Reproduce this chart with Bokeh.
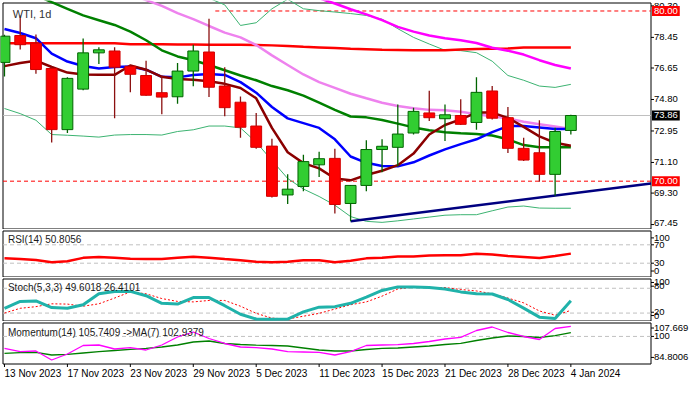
import numpy as np
from bokeh.plotting import figure
from bokeh.layouts import column
from bokeh.models import Range1d, Label, ColumnDataSource
from bokeh.core.properties import value
from bokeh.embed import file_html
from bokeh.resources import INLINE

# ---------------- data ----------------
date_labels = ["13 Nov 2023", "17 Nov 2023", "23 Nov 2023", "29 Nov 2023", "5 Dec 2023",
               "11 Dec 2023", "15 Dec 2023", "21 Dec 2023", "28 Dec 2023", "4 Jan 2024"]
date_ticks = [0, 4, 8, 12, 16, 20, 24, 28, 32, 36]

opens  = [76.98, 78.56, 78.11, 76.62, 73.03, 75.41, 77.54, 77.65, 76.75, 76.21, 75.20, 74.96, 76.47,
          77.59, 75.59, 74.64, 73.24, 72.06, 69.19, 69.69, 70.96, 71.34, 68.69, 69.75, 71.86, 71.99,
          72.83, 74.01, 73.67, 73.86, 73.45, 75.30, 73.73, 71.93, 71.67, 70.40, 72.98]
highs  = [78.60, 79.74, 78.62, 76.71, 76.10, 78.38, 77.87, 77.87, 76.84, 77.07, 76.19, 76.94, 78.02,
          79.55, 76.70, 74.98, 74.01, 72.49, 70.40, 71.56, 71.73, 71.90, 69.77, 72.40, 72.46, 74.51,
          74.32, 75.31, 74.51, 74.81, 76.10, 75.59, 74.36, 72.55, 73.58, 73.14, 73.91]
lows   = [76.15, 77.74, 76.32, 72.27, 72.83, 75.35, 76.88, 73.70, 75.22, 75.02, 73.93, 74.55, 75.58,
          74.94, 73.82, 72.55, 71.91, 69.04, 68.66, 69.41, 70.25, 68.10, 67.64, 69.41, 70.53, 70.87,
          72.74, 73.54, 72.36, 73.30, 73.02, 73.63, 71.65, 71.18, 69.97, 69.15, 72.74]
closes = [78.52, 78.02, 76.56, 73.03, 76.04, 77.54, 77.72, 76.70, 76.28, 75.05, 74.94, 76.47, 77.65,
          75.52, 74.32, 73.17, 71.99, 69.11, 69.53, 71.15, 71.32, 68.63, 69.75, 71.86, 72.05, 72.77,
          74.10, 73.73, 73.90, 73.34, 75.22, 73.70, 71.93, 71.24, 70.40, 72.92, 73.86]

nan = float("nan")
ma_blue = [78.94, 78.71, 78.40, 77.50, 77.03, 76.77, 76.62, 76.71, 76.74, 76.55, 76.13, 76.10, 76.24,
           76.30, 76.24, 75.82, 75.20, 74.36, 73.69, 73.41, 73.13, 72.46, 71.45, 71.08, 70.89, 70.87,
           71.11, 71.51, 71.87, 72.18, 72.46, 72.88, 73.24, 73.24, 73.16, 73.07, 73.07]
ma_brown = [76.76, 76.94, 77.08, 76.71, 76.38, 76.27, 76.25, 76.25, 76.80, 76.55, 76.13, 76.00, 75.96,
            75.87, 75.72, 75.48, 74.87, 73.13, 71.70, 71.06, 70.75, 70.16, 70.05, 70.36, 70.61, 70.94,
            71.62, 72.74, 73.30, 73.63, 74.03, 74.03, 73.72, 73.19, 72.63, 72.26, 72.08]
bb_mid = [81.59, 81.25, 80.92, 80.52, 80.13, 79.74, 79.46, 79.18, 78.79, 78.28, 77.69, 77.33, 77.11,
          76.83, 76.52, 76.21, 75.93, 75.59, 75.34, 75.03, 74.61, 74.19, 73.80, 73.75, 73.60, 73.38,
          73.16, 72.99, 72.88, 72.82, 72.77, 72.68, 72.46, 72.12, 71.99, 71.99, 71.99]
bb_upper = [nan, nan, nan, nan, nan, nan, nan, nan, nan, nan, nan, nan, 81.14,
            80.75, 80.36, 79.15, 79.31, 80.13, 80.69, 80.13, 80.02, 79.94, 79.85, 79.74, 79.52, 78.96,
            78.45, 78.06, 77.69, 77.67, 77.55, 77.05, 76.21, 75.93, 75.59, 75.51, 75.69]
bb_lower = [74.27, 73.97, 73.58, 72.74, 72.70, 72.65, 72.59, 72.71, 72.74, 72.74, 72.71, 72.92, 73.02,
            73.24, 73.24, 73.13, 72.29, 71.22, 70.16, 69.54, 69.10, 68.59, 67.92, 67.64, 67.58, 67.67,
            67.78, 67.89, 68.00, 68.03, 68.03, 68.26, 68.48, 68.54, 68.42, 68.41, 68.41]
ma_violet = [nan, nan, nan, nan, nan, nan, 81.70, 81.31, 80.97, 80.64, 80.30, 79.88, 79.52,
             79.12, 78.73, 78.45, 78.00, 77.39, 76.83, 76.27, 75.82, 75.48, 75.14, 74.87, 74.61, 74.42,
             74.28, 74.19, 74.17, 74.08, 73.94, 73.80, 73.69, 73.49, 73.35, 73.21, 73.07]
ma_magenta = [nan] * 18 + [81.25, 81.03, 80.75, 80.44, 80.10, 79.80, 79.46, 79.07, 78.79, 78.56, 78.40,
                           78.28, 78.12, 77.84, 77.67, 77.44, 77.11, 76.83, 76.62]
ma_red = [78.10, 78.10, 78.10, 78.10, 78.10, 78.10, 78.10, 78.10, 78.04, 78.04, 78.04, 78.03, 78.03,
          78.02, 78.02, 78.01, 78.00, 77.98, 77.95, 77.90, 77.86, 77.82, 77.78, 77.75, 77.72, 77.71,
          77.70, 77.70, 77.70, 77.74, 77.76, 77.78, 77.80, 77.85, 77.85, 77.85, 77.85]

trend_x = [22, 35]          # trendline anchors (bar index)
trend_y = [67.64, 69.15]    # lows of those bars
level_top, level_top_start = 80.00, 13.4
level_bottom = 70.00
last_price = 73.86

rsi = [40.5, 39.1, 36.9, 32.1, 34.2, 41.6, 43.7, 42.0, 39.9, 39.1, 39.1, 41.6, 44.1, 42.0, 39.1, 36.3,
       33.2, 32.1, 33.2, 36.3, 36.3, 32.1, 35.3, 40.5, 42.0, 44.7, 44.7, 46.8, 47.5, 47.5, 50.4, 48.9,
       45.4, 43.3, 41.2, 45.8, 50.8]
stoch_main = [31.5, 48.2, 49.3, 33.2, 31.5, 40.1, 66.6, 72.4, 72.4, 62.0, 43.6, 41.7, 57.4, 57.4, 37.8,
              17.0, 5.5, 4.8, 5.5, 22.8, 34.3, 35.5, 43.6, 58.6, 74.7, 83.3, 83.3, 81.7, 78.1, 71.2,
              66.6, 66.2, 52.8, 32.0, 10.1, 6.6, 49.6]
stoch_signal = [20.0, 31.5, 35.5, 42.4, 41.7, 36.6, 42.4, 56.3, 71.3, 66.6, 55.1, 48.2, 47.0, 50.5, 50.5,
                36.6, 19.3, 7.8, 5.5, 12.4, 19.3, 29.7, 40.1, 47.0, 60.9, 78.2, 82.8, 81.7, 81.7, 77.0,
                73.5, 66.6, 56.3, 44.7, 25.1, 14.7, 26.4]
momentum = [93.21, 91.27, 91.67, 86.53, 89.95, 94.81, 95.10, 92.81, 93.56, 92.24, 95.10, 99.67, 102.53,
            98.81, 95.96, 93.96, 93.56, 92.81, 91.27, 91.10, 90.93, 89.38, 91.27, 94.81, 95.10, 95.27,
            95.96, 97.10, 98.53, 99.50, 103.38, 105.38, 102.24, 99.96, 98.24, 104.53, 105.74]
momentum_ma = [90.35, 90.70, 90.93, 89.38, 89.78, 90.53, 91.27, 91.96, 92.64, 93.21, 93.96, 95.10, 96.81,
               97.38, 95.96, 95.38, 94.98, 94.81, 94.53, 93.38, 92.24, 91.67, 91.67, 92.53, 93.21, 93.38,
               93.96, 94.53, 95.38, 96.07, 97.67, 99.10, 100.24, 99.96, 99.38, 100.41, 102.2]

title_text = "WTI, 1d"
rsi_text = "RSI(14) 50.8056"
stoch_text = "Stoch(5,3,3) 49.6018 26.4101"
mom_text = "Momentum(14) 105.7409  ->MA(7) 102.9379"

price_ticks = [80.30, 78.45, 76.65, 74.80, 72.95, 71.10, 69.30, 67.45]
rsi_tick_pos, rsi_tick_txt = [85, 70, 30, 13], ["100", "70", "30", "0"]
stoch_tick_pos, stoch_tick_txt = [94, 85, 22, 14], ["100", "80", "20", "0"]
mom_tick_pos, mom_tick_txt = [104.8, 100, 88.0], ["107.669", "100", "84.8006"]

# ---------------- layout (pixels) ----------------
FONT = "Liberation Sans"
FS = "10px"
SFS = "9.5px"                       # right-scale font size
W = 689
PX_LEFT, PX_RIGHT = 2.5, 650.5      # panel border x positions
X0, X1 = -0.094, 41.094             # bar coordinates of the panel borders
PPB = (PX_RIGHT - PX_LEFT) / (X1 - X0)
xr = Range1d(X0 - PX_LEFT / PPB, X1 + (W - PX_RIGHT) / PPB)
n = len(closes)
idx = list(range(n))


def make_panel(H, t, b, vtop, vbot):
    ppu = (b - t) / (vtop - vbot)
    yr = Range1d(vbot - (H - b) / ppu, vtop + t / ppu)
    p = figure(width=W, height=H, x_range=xr, y_range=yr,
               output_backend="svg", toolbar_location=None,
               x_axis_location=None, y_axis_location=None,
               min_border=0, background_fill_color="white", border_fill_color="white")
    p.grid.visible = False
    p.outline_line_color = None
    p.line([X0, X1, X1, X0, X0], [vtop, vtop, vbot, vbot, vtop], line_color="black", line_width=1)
    return p, ppu


def scale_labels(p, pos, txt, yoff=None):
    p.segment(x0=[X1] * len(pos), y0=pos, x1=[X1 + 3 / PPB] * len(pos), y1=pos,
              line_color="black", line_width=1)
    src = ColumnDataSource(dict(x=[X1] * len(pos), y=pos, t=txt,
                                yo=yoff if yoff is not None else [0] * len(pos)))
    p.text(x="x", y="y", text="t", x_offset=3, y_offset="yo", source=src,
           text_font=value(FONT), text_font_size=value(SFS), text_color="black",
           text_baseline="middle", text_align="left")


def right_marker(p, y, txt, color):
    p.add_layout(Label(x=X1, y=y, x_offset=1, text=txt, text_color="white",
                       text_font=FONT, text_font_size=SFS, text_align="left",
                       text_baseline="middle", background_fill_color=color,
                       padding=2))


def hlevel(p, y, color, dash, x_start=X0):
    p.line([x_start, X1], [y, y], line_color=color, line_width=1, line_dash=dash)


# ---- main price panel ----
p1, _ = make_panel(229, 2.5, 228.5, 80.47, 67.19)
hlevel(p1, last_price, "#C0C0C0", "solid")
hlevel(p1, level_bottom, "#FF0000", "4 3")
hlevel(p1, level_top, "#FF0000", "4 3", level_top_start)

p1.line(idx, bb_upper, line_color="#3CB371", line_width=1)
p1.line(idx, bb_lower, line_color="#3CB371", line_width=1)
p1.line(idx, ma_red, line_color="#FF0000", line_width=2.5)
p1.line(idx, ma_magenta, line_color="#FF00FF", line_width=2.5)
p1.line(idx, ma_violet, line_color="#EE82EE", line_width=2.5)
p1.line(idx, bb_mid, line_color="#008000", line_width=2.5)
p1.line(idx, ma_blue, line_color="#0000FF", line_width=2.5)
p1.line(idx, ma_brown, line_color="#8B0000", line_width=2.5)

slope = (trend_y[1] - trend_y[0]) / (trend_x[1] - trend_x[0])
p1.line([trend_x[0], X1], [trend_y[0], trend_y[0] + slope * (X1 - trend_x[0])],
        line_color="#000080", line_width=2.5)

up = [c >= o for o, c in zip(opens, closes)]
src = ColumnDataSource(dict(
    x=idx, h=highs, l=lows,
    top=[max(o, c) for o, c in zip(opens, closes)],
    bot=[min(o, c) for o, c in zip(opens, closes)],
    wick=["#006400" if u else "#8B1010" for u in up],
    fill=["#32CD32" if u else "#FF0000" for u in up],
    edge=["#006400" if u else "#D00000" for u in up],
))
p1.segment("x", "h", "x", "l", source=src, line_color="wick", line_width=1.3)
p1.vbar(x="x", top="top", bottom="bot", width=0.69, source=src,
        fill_color="fill", line_color="edge", line_width=1)

p1.add_layout(Label(x=0.53, y=79.85, text=title_text, text_font=FONT, text_font_size="11px",
                    text_color="#333333", text_baseline="middle"))
scale_labels(p1, price_ticks, [f"{v:.2f}" for v in price_ticks],
             [0, 0, 0, 0, 0, 0, 0, -1.5])
right_marker(p1, level_top, f"{level_top:.2f}", "#FF0000")
right_marker(p1, level_bottom, f"{level_bottom:.2f}", "#FF0000")
right_marker(p1, last_price, f"{last_price:.2f}", "#000000")

# ---- RSI ----
p2, _ = make_panel(48, 1.5, 47.5, 100, 0)
for lv in (70, 30):
    hlevel(p2, lv, "#C0C0C0", "4 3")
p2.line(idx, rsi, line_color="#FF0000", line_width=2.5)
p2.add_layout(Label(x=0.22, y=80.5, text=rsi_text, text_font=FONT, text_font_size=FS,
                    text_color="#1a1a1a", text_baseline="middle"))
scale_labels(p2, rsi_tick_pos, rsi_tick_txt)

# ---- Stochastic ----
p3, _ = make_panel(44, 1.5, 43.5, 102.4, 0.8)
for lv in (80, 20):
    hlevel(p3, lv, "#C0C0C0", "4 3")
p3.line(idx, stoch_signal, line_color="#FF0000", line_width=1, line_dash="2 2")
p3.line(idx, stoch_main, line_color="#20B2AA", line_width=3)
p3.add_layout(Label(x=0.22, y=81.7, text=stoch_text, text_font=FONT, text_font_size=FS,
                    text_color="#1a1a1a", text_baseline="middle"))
scale_labels(p3, stoch_tick_pos, stoch_tick_txt)

# ---- Momentum + date scale ----
vb = 84.24
p4, ppu4 = make_panel(60, 1.5, 42.5, 107.67, vb)
hlevel(p4, 100, "#C0C0C0", "4 3")
p4.line(idx, momentum_ma, line_color="#008000", line_width=1.3)
p4.line(idx, momentum, line_color="#FF00FF", line_width=1.3)
p4.add_layout(Label(x=0.22, y=102.5, text=mom_text, text_font=FONT, text_font_size=FS,
                    text_color="#1a1a1a", text_baseline="middle"))
scale_labels(p4, mom_tick_pos, mom_tick_txt)

p4.segment(x0=date_ticks, y0=[vb] * len(date_ticks), x1=date_ticks,
           y1=[vb - 3 / ppu4] * len(date_ticks), line_color="black", line_width=1)
p4.text(x=date_ticks, y=[vb - 9.5 / ppu4] * len(date_ticks), text=date_labels,
        text_font=value(FONT), text_font_size=value(FS), text_color="black",
        text_baseline="middle", text_align="left")

layout = column(p1, p2, p3, p4, spacing=0)
open("out.html", "w").write(file_html(layout, INLINE))
